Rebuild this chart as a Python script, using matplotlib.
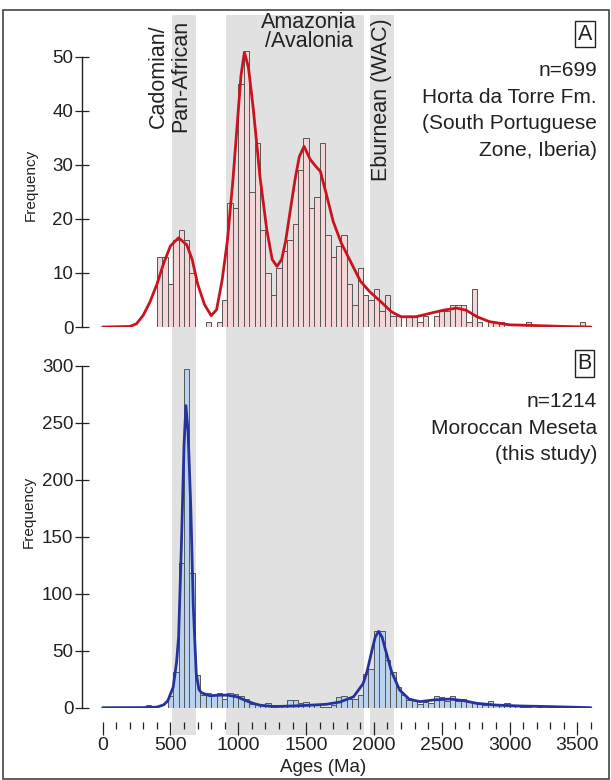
import numpy as np
import matplotlib
matplotlib.use("Agg")
import matplotlib.pyplot as plt
from matplotlib.patches import Rectangle
from matplotlib.ticker import MultipleLocator

plt.rcParams["font.family"] = ["Liberation Sans", "DejaVu Sans"]

GRAY_BAND = "#e1e1e1"
PINK = "#f3d6d8"
RED = "#c8141e"
BLUE_BAR = "#b9d3ee"
BLUE = "#26339a"
EDGE = "#555555"
INK = "#222222"

BIN = 40

# ---------------------------------------------------------------------------
# A: Horta da Torre Fm. -- 40 Ma bins starting at 400 Ma
# ---------------------------------------------------------------------------
a_edges = np.arange(400, 3560, BIN)
a_counts = [
    13, 13, 8, 16, 18, 16, 10, 0, 0, 1,
    0, 1, 5, 23, 22, 45, 51, 25, 34, 18,
    10, 6, 11, 14, 16, 19, 29, 35, 22, 24,
    34, 17, 13, 15, 17, 8, 4, 11, 6, 5,
    7, 3, 6, 2, 2, 0, 2, 2, 1, 2,
    0, 2, 3, 3, 4, 4, 4, 1, 7, 1,
    0, 1, 1, 1, 0, 0, 0, 0, 1, 0,
    0, 0, 0, 0, 0, 0, 0, 0, 1,
]
a_kde_age = [0, 200, 250, 300, 350, 400, 450, 500, 560, 620, 660, 700, 750,
             800, 840, 880, 920, 960, 1000, 1020, 1045, 1075, 1110, 1160,
             1210, 1250, 1285, 1320, 1350, 1380, 1420, 1450, 1485, 1530,
             1575, 1605, 1650, 1700, 1760, 1820, 1900, 1970, 2050, 2130,
             2200, 2310, 2410, 2510, 2610, 2680, 2760, 2850, 3000, 3150,
             3400, 3600]
a_kde_val = [0, 0.1, 0.6, 2.2, 4.7, 7.9, 11.8, 15.0, 16.5, 15.2, 12.5, 8.0,
             4.2, 2.1, 3.2, 8.5, 16.0, 27.0, 40.0, 46.5, 50.8, 48.0, 40.5,
             27.8, 18.0, 12.5, 11.2, 12.5, 16.0, 21.0, 27.5, 31.5, 33.4,
             31.0, 29.6, 28.8, 24.5, 19.5, 15.5, 12.5, 8.5, 6.5, 4.7, 2.8,
             1.9, 1.9, 2.5, 3.1, 3.5, 3.1, 1.9, 1.0, 0.4, 0.3, 0.1, 0]

# ---------------------------------------------------------------------------
# B: Moroccan Meseta -- 40 Ma bins starting at 320 Ma
# ---------------------------------------------------------------------------
b_edges = np.arange(320, 3440, BIN)
b_counts = [
    2, 0, 0, 0, 10, 31, 127, 297, 118, 29,
    11, 13, 11, 13, 8, 13, 12, 10, 8, 3,
    3, 2, 4, 2, 2, 2, 7, 7, 4, 5,
    2, 2, 1, 1, 2, 9, 10, 8, 8, 11,
    30, 34, 67, 67, 42, 31, 18, 11, 7, 7,
    3, 5, 4, 10, 9, 6, 10, 6, 8, 5,
    4, 3, 2, 6, 2, 2, 4, 2, 2, 1,
    1, 0, 1, 0, 0, 1, 1, 1,
]
b_kde_age = [0, 300, 400, 450, 480, 520, 545, 560, 580, 600, 614, 630, 650,
             668, 690, 710, 730, 790, 860, 920, 990, 1060, 1110, 1160, 1260,
             1400, 1530, 1650, 1750, 1850, 1920, 1950, 1985, 2010, 2035,
             2060, 2085, 2130, 2190, 2260, 2340, 2440, 2560, 2660, 2760,
             2900, 3080, 3320, 3600]
b_kde_val = [0, 0.1, 0.5, 2.5, 6, 18, 40, 62, 140, 230, 265, 242, 175, 90,
             30, 16, 13, 10.5, 11, 11, 9.6, 6, 3.8, 2.2, 1.0, 1.5, 2.2, 3,
             5, 9.6, 21, 32, 50, 62, 67, 62, 51, 31.6, 15.5, 7.5, 5.3, 6.8,
             7.6, 6.2, 3.8, 2.3, 1.5, 0.9, 0]

# age windows (Ma)
bands = [(510, 690), (910, 1930), (1970, 2150)]

W, H = 611, 780
fig = plt.figure(figsize=(W / 100, H / 100), dpi=100)


def fx(px):
    return px / W


def fy(py):
    return 1 - py / H


X0, X1 = 82.3, 600
XLIM = (-150, 3667)

# background axes carrying the shaded windows
bg = fig.add_axes([fx(X0), fy(735), fx(X1 - X0), (735 - 15) / H], zorder=0)
bg.set_xlim(*XLIM)
bg.set_ylim(0, 1)
for lo, hi in bands:
    bg.axvspan(lo, hi, color=GRAY_BAND, lw=0)
bg.axis("off")

axA = fig.add_axes([fx(X0), fy(327), fx(X1 - X0), (327 - 15) / H], zorder=2)
axB = fig.add_axes([fx(X0), fy(707.7), fx(X1 - X0), (707.7 - 345) / H], zorder=2)

for ax, edges, counts, kx, ky, fc, lc, ytop, ymax in [
    (axA, a_edges, a_counts, a_kde_age, a_kde_val, PINK, RED, 50, 57.7),
    (axB, b_edges, b_counts, b_kde_age, b_kde_val, BLUE_BAR, BLUE, 300, 318.2),
]:
    ax.patch.set_visible(False)
    c = np.array(counts)
    keep = c > 0
    ax.bar(edges[keep], c[keep], width=BIN, align="edge", color=fc,
           edgecolor=EDGE, linewidth=0.7)
    ax.plot(kx, ky, color=lc, lw=2.0, solid_capstyle="round",
            solid_joinstyle="round")
    ax.set_xlim(*XLIM)
    ax.set_ylim(0, ymax)
    for s in ["top", "right"]:
        ax.spines[s].set_visible(False)
    ax.spines["left"].set_bounds(0, ytop)
    ax.spines["left"].set_color(INK)
    ax.spines["left"].set_linewidth(1.0)
    ax.tick_params(axis="y", direction="inout", length=9.4, width=0.9,
                   colors=INK, labelsize=13.5, pad=1.8)

axA.set_yticks([0, 10, 20, 30, 40, 50])
axB.set_yticks([0, 50, 100, 150, 200, 250, 300])

axA.spines["bottom"].set_visible(False)
axA.set_xticks([])

axB.spines["bottom"].set_position(("outward", 10.5))
axB.spines["bottom"].set_visible(False)
axB.set_xticks(np.arange(0, 3501, 500))
axB.xaxis.set_minor_locator(MultipleLocator(100))
axB.set_xticks(np.arange(0, 3601, 100), minor=True)
axB.tick_params(axis="x", which="major", direction="out", length=9.4,
                width=0.9, colors=INK, labelsize=14, pad=1.5)
axB.tick_params(axis="x", which="minor", direction="out", length=5,
                width=0.9, colors=INK)

# axis titles
fig.text(fx(31), fy(185), "Frequency", rotation=90, ha="center", va="center",
         fontsize=11, color=INK)
fig.text(fx(29), fy(512), "Frequency", rotation=90, ha="center", va="center",
         fontsize=11, color=INK)
fig.text(fx(323), fy(768), "Ages (Ma)", ha="center", va="center",
         fontsize=13.5, color=INK)

# window labels
fig.text(fx(158.3), fy(76), "Cadomian/", rotation=90, ha="center",
         va="center", fontsize=15.5, color=INK)
fig.text(fx(180.7), fy(76), "Pan-African", rotation=90, ha="center",
         va="center", fontsize=15.5, color=INK)
fig.text(fx(309), fy(32), "Amazonia\n/Avalonia", ha="center", va="center",
         multialignment="center", linespacing=0.92, fontsize=15.5, color=INK)
fig.text(fx(381), fy(100), "Eburnean (WAC)", rotation=90, ha="center",
         va="center", fontsize=15.5, color=INK)

# panel tags and sample info
box = dict(boxstyle="square,pad=0.12", fc="white", ec=INK, lw=1.0)
fig.text(fx(585), fy(34), "A", ha="center", va="center", fontsize=15.5,
         color=INK, bbox=box)
fig.text(fx(584.5), fy(363.5), "B", ha="center", va="center", fontsize=15.5,
         color=INK, bbox=box)

a_info = ["n=699", "Horta da Torre Fm.", "(South Portuguese", "Zone, Iberia)"]
for i, line in enumerate(a_info):
    fig.text(fx(597), fy(70.7 + 26.5 * i), line, ha="right", va="center",
             fontsize=15, color=INK)
b_info = ["n=1214", "Moroccan Meseta", "(this study)"]
for i, line in enumerate(b_info):
    fig.text(fx(597), fy(401.7 + 26.6 * i), line, ha="right", va="center",
             fontsize=15, color=INK)

# outer frame
fig.patches.append(Rectangle((fx(3), fy(779)), fx(606), (779 - 10) / H,
                             transform=fig.transFigure, fill=False,
                             ec="#444444", lw=1.2))

fig.savefig("out.png", dpi=100)
